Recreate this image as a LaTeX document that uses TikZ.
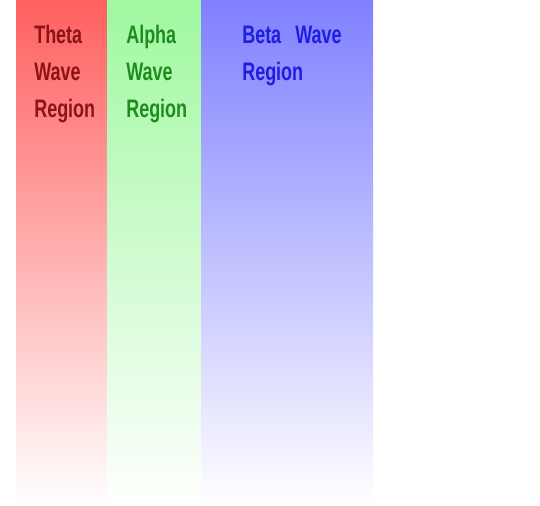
\documentclass[tikz,border=0pt]{standalone}
\usepackage{fontspec}
\setmainfont[FakeStretch=0.71]{Liberation Sans}
\begin{document}
\begin{tikzpicture}[x=0.75pt,y=-0.75pt,
  lbl/.style={anchor=base west,inner sep=0pt,font=\fontsize{19}{22}\selectfont\bfseries},
  band/.style={draw=none}]
\useasboundingbox (0,0) rectangle (540,506);
\shade[band,top color={rgb,255:red,255;green,96;blue,96},bottom color=white] (16,0) rectangle (107,505);
\shade[band,top color={rgb,255:red,160;green,248;blue,160},bottom color=white] (107,0) rectangle (201,505);
\shade[band,top color={rgb,255:red,128;green,128;blue,255},bottom color=white] (201,0) rectangle (373,505);
\definecolor{tc}{RGB}{140,20,20}
\definecolor{ac}{RGB}{30,140,30}
\definecolor{bc}{RGB}{30,30,225}
\node[lbl,text=tc] (t1) at (34,44) {Theta};
\node[lbl,text=tc] (t2) at (34,81) {Wave};
\node[lbl,text=tc] (t3) at (34,118) {Region};
\node[lbl,text=ac] (a1) at (126,44) {Alpha};
\node[lbl,text=ac] (a2) at (126,81) {Wave};
\node[lbl,text=ac] (a3) at (126,118) {Region};
\node[lbl,text=bc] (b1) at (242,44) {Beta};
\node[lbl,text=bc] (b1w) at (295,44) {Wave};
\node[lbl,text=bc] (b2) at (242,81) {Region};
\end{tikzpicture}
\end{document}
